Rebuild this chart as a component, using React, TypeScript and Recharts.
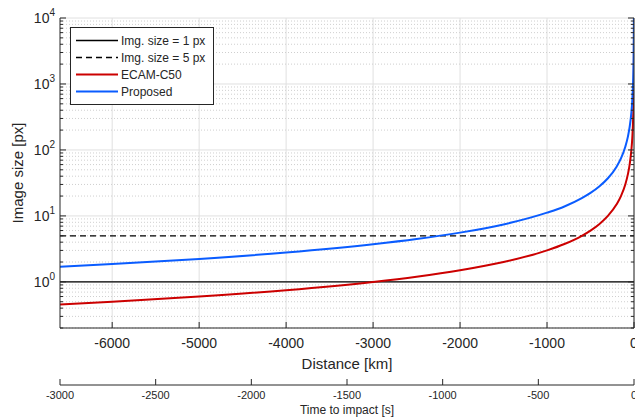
import React from 'react';
import { ComposedChart, Line, XAxis, YAxis, CartesianGrid, Legend } from 'recharts';

// ---- data ----
const distanceKm = [-6600, -6000, -5000, -4000, -3000, -2500, -2000, -1500, -1000, -800, -600, -500, -400, -300, -200, -150, -100, -70, -50, -30, -20, -10, -5, -2, -1, -0.3];
const proposedPx = [1.69, 1.86, 2.23, 2.79, 3.72, 4.46, 5.58, 7.43, 11.2, 13.9, 18.6, 22.3, 27.9, 37.2, 55.8, 74.3, 112, 159, 223, 372, 558, 1115, 2230, 5575, 11150, 37000];
const ecamPx = [0.455, 0.5, 0.6, 0.75, 1.0, 1.2, 1.5, 2.0, 3.0, 3.75, 5.0, 6.0, 7.5, 10, 15, 20, 30, 43, 60, 100, 150, 300, 600, 1500, 3000, 10000];
const sizeOnePx = 1;
const sizeFivePx = 5;

const distanceTicks = [-6000, -5000, -4000, -3000, -2000, -1000, 0];
const timeTicks = [-3000, -2500, -2000, -1500, -1000, -500, 0];
const yMajorTicks = [1, 10, 100, 1000, 10000];
const yMinorTicks = [0.2, 0.3, 0.4, 0.5, 0.6, 0.7, 0.8, 0.9, 2, 3, 4, 5, 6, 7, 8, 9, 20, 30, 40, 50, 60, 70, 80, 90, 200, 300, 400, 500, 600, 700, 800, 900, 2000, 3000, 4000, 5000, 6000, 7000, 8000, 9000];
const yAllTicks = [...yMinorTicks, ...yMajorTicks].sort((a, b) => a - b);

const seriesDefs = [
  { key: 'one', name: 'Img. size = 1 px', color: '#000000', width: 1.3, dash: undefined as string | undefined },
  { key: 'five', name: 'Img. size = 5 px', color: '#000000', width: 1.3, dash: '6 4' },
  { key: 'ecam', name: 'ECAM-C50', color: '#cc0000', width: 2, dash: undefined },
  { key: 'proposed', name: 'Proposed', color: '#0a5cff', width: 2, dash: undefined },
];

const data = distanceKm.map((d, i) => ({
  d,
  proposed: proposedPx[i],
  ecam: ecamPx[i],
  one: sizeOnePx,
  five: sizeFivePx,
}));

const AXIS = '#262626';
const TEXT = '#262626';
const FONT = '"Liberation Sans", Arial, Helvetica, sans-serif';
const majorSet = new Set(yMajorTicks);

const BottomTick = (props: any) => {
  const { x, y, payload } = props;
  return (
    <g>
      <line x1={x} x2={x} y1={y} y2={y - 6} stroke={AXIS} strokeWidth={1} />
      <text x={x} y={y + 20} textAnchor="middle" fontSize={14} fill={TEXT} fontFamily={FONT}>
        {payload.value}
      </text>
    </g>
  );
};

const TimeTick = (props: any) => {
  const { x, y, payload } = props;
  return (
    <g>
      <line x1={x} x2={x} y1={y} y2={y - 6} stroke={AXIS} strokeWidth={1} />
      <text x={x} y={y + 14} textAnchor="middle" fontSize={11} fill={TEXT} fontFamily={FONT}>
        {payload.value}
      </text>
    </g>
  );
};

const TopTick = (props: any) => {
  const { x, y } = props;
  return <line x1={x} x2={x} y1={y} y2={y + 6} stroke={AXIS} strokeWidth={1} />;
};

const LeftTick = (props: any) => {
  const { x, y, payload } = props;
  const major = majorSet.has(payload.value);
  const exp = Math.round(Math.log10(payload.value));
  return (
    <g>
      <line x1={x} x2={x + (major ? 6 : 3)} y1={y} y2={y} stroke={AXIS} strokeWidth={1} />
      {major && (
        <text x={x - 5} y={y + 5} textAnchor="end" fontSize={14} fill={TEXT} fontFamily={FONT}>
          <tspan>10</tspan>
          <tspan dy={-7} fontSize={10}>{exp}</tspan>
        </text>
      )}
    </g>
  );
};

const RightTick = (props: any) => {
  const { x, y, payload } = props;
  const major = majorSet.has(payload.value);
  return <line x1={x} x2={x - (major ? 6 : 3)} y1={y} y2={y} stroke={AXIS} strokeWidth={1} />;
};

const LegendBox = () => (
  <div
    style={{
      border: `1px solid ${AXIS}`,
      background: '#ffffff',
      padding: '4px 0',
      width: 144,
      boxSizing: 'border-box',
      fontFamily: FONT,
      fontSize: 12,
      color: TEXT,
    }}
  >
    {seriesDefs.map((s) => (
      <div key={s.key} style={{ display: 'flex', alignItems: 'center', height: 17 }}>
        <svg width={50} height={17} style={{ display: 'block' }}>
          <line x1={5} x2={47} y1={8.5} y2={8.5} stroke={s.color} strokeWidth={s.width === 2 ? 2 : 1.5} strokeDasharray={s.dash} />
        </svg>
        <span style={{ whiteSpace: 'nowrap' }}>{s.name}</span>
      </div>
    ))}
  </div>
);

export default function App() {
  return (
    <div style={{ position: 'absolute', left: 0, top: 0, width: 635, height: 418, background: '#fff' }}>
      <ComposedChart
        width={635}
        height={418}
        data={data}
        margin={{ top: 18, right: 0, bottom: 0, left: 0 }}
        style={{ fontFamily: FONT }}
      >
        <CartesianGrid horizontalValues={yMajorTicks} verticalValues={distanceTicks} stroke="#e0e0e0" strokeWidth={1} />
        <CartesianGrid horizontalValues={yMinorTicks} vertical={false} stroke="#cfcfcf" strokeDasharray="1 2" strokeWidth={1} />
        <XAxis
          dataKey="d"
          type="number"
          domain={[-6600, 0]}
          allowDataOverflow
          ticks={distanceTicks}
          interval={0}
          height={57}
          tickSize={0}
          tickMargin={0}
          tick={BottomTick}
          stroke={AXIS}
          label={(p: any) => {
            const vb = p.viewBox;
            return (
              <text x={vb.x + vb.width / 2} y={vb.y + 41} textAnchor="middle" fontSize={15} fill={TEXT} fontFamily={FONT}>
                Distance [km]
              </text>
            );
          }}
        />
        <XAxis
          xAxisId="time"
          dataKey="d"
          type="number"
          domain={[-3000, 0]}
          allowDataOverflow
          ticks={timeTicks}
          interval={0}
          height={33}
          tickSize={0}
          tickMargin={0}
          tick={TimeTick}
          stroke={AXIS}
          label={(p: any) => {
            const vb = p.viewBox;
            return (
              <text x={vb.x + vb.width / 2} y={vb.y + 29} textAnchor="middle" fontSize={12} fill={TEXT} fontFamily={FONT}>
                Time to impact [s]
              </text>
            );
          }}
        />
        <XAxis
          xAxisId="top"
          dataKey="d"
          orientation="top"
          type="number"
          domain={[-6600, 0]}
          allowDataOverflow
          ticks={distanceTicks}
          interval={0}
          height={0}
          tickSize={0}
          tickMargin={0}
          tick={TopTick}
          stroke={AXIS}
        />
        <YAxis
          scale="log"
          type="number"
          domain={[0.2, 10000]}
          allowDataOverflow
          ticks={yAllTicks}
          interval={0}
          width={60}
          tickSize={0}
          tickMargin={0}
          tick={LeftTick}
          stroke={AXIS}
          label={(p: any) => {
            const vb = p.viewBox;
            const cy = vb.y + vb.height / 2;
            return (
              <text x={23} y={cy} textAnchor="middle" fontSize={15} fill={TEXT} fontFamily={FONT} transform={`rotate(-90, 23, ${cy})`}>
                Image size [px]
              </text>
            );
          }}
        />
        <YAxis
          yAxisId="right"
          orientation="right"
          scale="log"
          type="number"
          domain={[0.2, 10000]}
          allowDataOverflow
          ticks={yAllTicks}
          interval={0}
          width={1}
          tickSize={0}
          tickMargin={0}
          tick={RightTick}
          stroke={AXIS}
        />
        <Legend
          layout="horizontal"
          align="center"
          verticalAlign="middle"
          wrapperStyle={{ left: 70, top: 27, width: 144, height: 'auto' }}
          content={() => <LegendBox />}
        />
        {seriesDefs.map((s) => (
          <Line
            key={s.key}
            dataKey={s.key}
            name={s.name}
            type="monotone"
            stroke={s.color}
            strokeWidth={s.width}
            strokeDasharray={s.dash}
            dot={false}
            activeDot={false}
            isAnimationActive={false}
          />
        ))}
      </ComposedChart>
    </div>
  );
}
